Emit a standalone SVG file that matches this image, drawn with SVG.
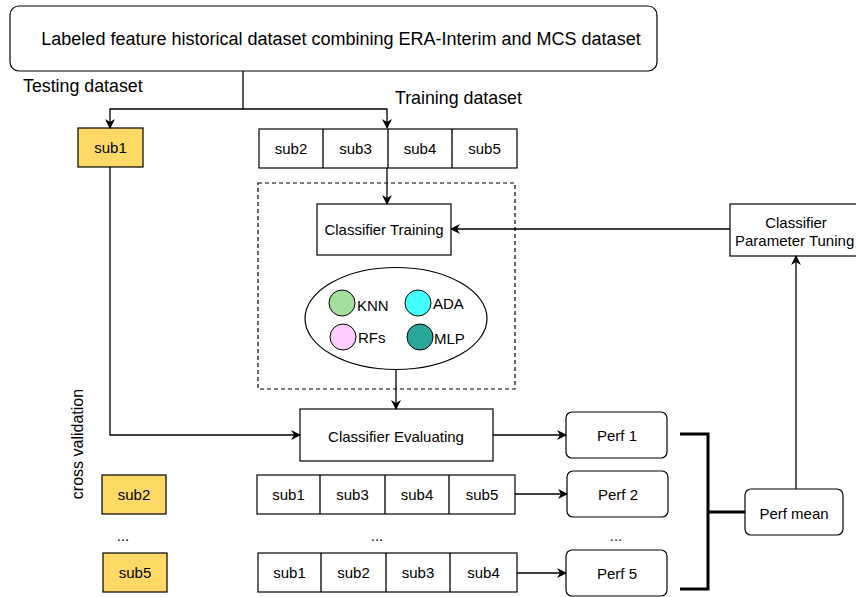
<svg xmlns="http://www.w3.org/2000/svg" width="856" height="597" viewBox="0 0 856 597">
<defs>
<marker id="ar" viewBox="0 0 10 10" refX="9" refY="5" markerWidth="10" markerHeight="10" markerUnits="userSpaceOnUse" orient="auto">
<path d="M0,0 L10,5 L0,10 L3,5 Z" fill="#000"/>
</marker>
<style>
text{font-family:"Liberation Sans",Arial,sans-serif;fill:#000}
.t{font-size:15px;text-anchor:middle;dominant-baseline:central}
.b{fill:#fff;stroke:#000;stroke-width:1.2}
.y{fill:#FFD966;stroke:#000;stroke-width:1.2}
.c{fill:none;stroke:#000;stroke-width:1.3}
.k{fill:none;stroke:#000;stroke-width:3}
.l{font-size:17.8px}
</style>
</defs>
<g id="top"><rect class="b" x="10" y="6" width="647" height="65" rx="9"/><text class="t" x="341" y="39" style="font-size:18px">Labeled feature historical dataset combining ERA-Interim and MCS dataset</text></g>
<text class="l" x="23" y="92">Testing dataset</text>
<text class="l" x="395" y="104">Training dataset</text>
<g id="sub1"><rect class="y" x="78" y="128" width="65" height="39"/><text class="t" x="110.5" y="147.5">sub1</text></g>
<g id="train-row"><rect class="b" x="259" y="129" width="258" height="39"/><path class="c" d="M323,129V168M388,129V168M452,129V168"/>
<text class="t" x="291" y="148.5">sub2</text><text class="t" x="355.5" y="148.5">sub3</text><text class="t" x="420" y="148.5">sub4</text><text class="t" x="484.5" y="148.5">sub5</text></g>
<g id="dashed"><rect x="258" y="183" width="257" height="206" fill="none" stroke="#000" stroke-width="1.2" stroke-dasharray="4,3"/></g>
<g id="ct"><rect class="b" x="317" y="204" width="134" height="51"/><text class="t" x="384" y="229.5">Classifier Training</text></g>
<g id="models"><ellipse class="b" cx="396" cy="318.5" rx="91" ry="51"/>
<circle cx="342" cy="303" r="13" fill="#A5DFA0" stroke="#000"/><text class="t" x="357" y="305" style="text-anchor:start">KNN</text>
<circle cx="418" cy="303" r="13" fill="#44FFFF" stroke="#000"/><text class="t" x="433" y="303" style="text-anchor:start">ADA</text>
<circle cx="343" cy="337" r="13" fill="#FFCCFF" stroke="#000"/><text class="t" x="358" y="337" style="text-anchor:start">RFs</text>
<circle cx="420" cy="337" r="13" fill="#2AA79B" stroke="#000"/><text class="t" x="434" y="338" style="text-anchor:start">MLP</text></g>
<g id="cpt"><rect class="b" x="730" y="204" width="130" height="52"/><text class="t" x="796" y="222">Classifier</text><text class="t" x="735" y="240" style="text-anchor:start">Parameter Tuning</text></g>
<g id="ce"><rect class="b" x="300" y="409" width="193" height="52"/><text class="t" x="396" y="436">Classifier Evaluating</text></g>
<g id="perf1"><rect class="b" x="566" y="412" width="101" height="46" rx="6"/><text class="t" x="617" y="435">Perf 1</text></g>
<g id="perf2"><rect class="b" x="567" y="471" width="101" height="46" rx="6"/><text class="t" x="618" y="494">Perf 2</text></g>
<g id="perf5"><rect class="b" x="566" y="550" width="101" height="46" rx="6"/><text class="t" x="617" y="573">Perf 5</text></g>
<g id="pm"><rect class="b" x="745" y="489" width="98" height="46" rx="6"/><text class="t" x="794" y="513">Perf mean</text></g>
<text class="t" x="77" y="444" transform="rotate(-90 77 444)" style="font-size:16px">cross validation</text>
<g id="sub2"><rect class="y" x="102" y="475" width="64" height="39"/><text class="t" x="134" y="494.5">sub2</text></g>
<g id="sub5"><rect class="y" x="103" y="553" width="64" height="39"/><text class="t" x="135" y="572.5">sub5</text></g>
<text class="t" x="123" y="535">...</text><text class="t" x="377" y="535">...</text><text class="t" x="616" y="535">...</text>
<g id="row2"><rect class="b" x="257" y="475" width="258" height="39"/><path class="c" d="M320,475V514M385,475V514M449,475V514"/>
<text class="t" x="288.5" y="494.5">sub1</text><text class="t" x="352.5" y="494.5">sub3</text><text class="t" x="417" y="494.5">sub4</text><text class="t" x="482" y="494.5">sub5</text></g>
<g id="row5"><rect class="b" x="258" y="553" width="259" height="39"/><path class="c" d="M321,553V592M386,553V592M450,553V592"/>
<text class="t" x="289.5" y="572.5">sub1</text><text class="t" x="353.5" y="572.5">sub2</text><text class="t" x="418" y="572.5">sub3</text><text class="t" x="483.5" y="572.5">sub4</text></g>
<g id="connectors">
<path class="c" d="M243,71V109"/>
<path class="c" d="M243,109H110V128" marker-end="url(#ar)"/>
<path class="c" d="M243,109H387V128" marker-end="url(#ar)"/>
<path class="c" d="M387,168V204" marker-end="url(#ar)"/>
<path class="c" d="M730,229H451" marker-end="url(#ar)"/>
<path class="c" d="M396,370V409" marker-end="url(#ar)"/>
<path class="c" d="M110,167V435H300" marker-end="url(#ar)"/>
<path class="c" d="M493,435H566" marker-end="url(#ar)"/>
<path class="c" d="M515,494H567" marker-end="url(#ar)"/>
<path class="c" d="M517,573H566" marker-end="url(#ar)"/>
<path class="k" d="M680,434H708V589H680M708,512H745"/>
<path class="c" d="M796,489V256" marker-end="url(#ar)"/>
</g>
</svg>
